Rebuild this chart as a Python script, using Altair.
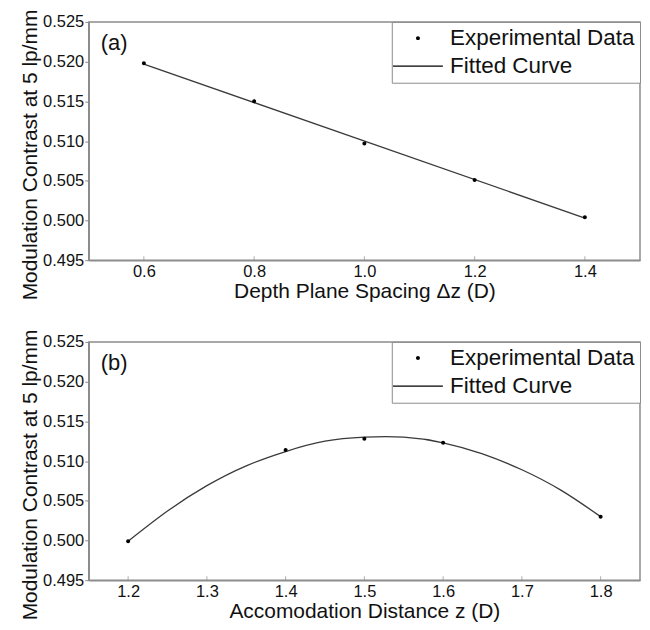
import altair as alt
import pandas as pd

# ---------------- data ----------------
# Panel (a): contrast vs depth plane spacing
a_x = [0.6, 0.8, 1.0, 1.2, 1.4]
a_y = [0.5198, 0.5150, 0.5097, 0.5051, 0.5004]
a_fit_x = [0.6, 1.4]
a_fit_y = [0.5197, 0.5003]
a_xticks = [0.6, 0.8, 1.0, 1.2, 1.4]

# Panel (b): contrast vs accommodation distance
b_x = [1.2, 1.4, 1.5, 1.6, 1.8]
b_y = [0.4999, 0.5114, 0.5128, 0.5123, 0.5030]
b_fit_x = [1.20, 1.25, 1.30, 1.35, 1.40, 1.45, 1.50, 1.55, 1.60, 1.65, 1.70, 1.75, 1.80]
b_fit_y = [0.4999, 0.5037, 0.5069, 0.5094, 0.5112, 0.5125, 0.5130, 0.5130,
           0.5123, 0.5109, 0.5089, 0.5063, 0.5030]
b_xticks = [1.2, 1.3, 1.4, 1.5, 1.6, 1.7, 1.8]

y_ticks = [0.495, 0.500, 0.505, 0.510, 0.515, 0.520, 0.525]
y_title = "Modulation Contrast at 5 lp/mm"
series = ["Experimental Data", "Fitted Curve"]

FONT = "Liberation Sans"
FRAME = "#8c8c8c"
LINE = "#3a3a3a"
# marker / legend symbols: a small filled dot and a thin filled bar (line sample)
DOT = "M-0.4,0A0.4,0.4 0 1,0 0.4,0A0.4,0.4 0 1,0 -0.4,0Z"
DASH = "M-5,-0.13H5V0.13H-5Z"


def panel(px, py, fx, fy, xdomain, xticks, xtitle, tag, interp):
    pts = pd.DataFrame({"x": px, "y": py, "s": [series[0]] * len(px)})
    fit = pd.DataFrame({"x": fx, "y": fy})
    tk = pd.DataFrame({"x": xticks})
    lab = pd.DataFrame({"t": [tag]})

    xs = alt.Scale(domain=xdomain, nice=False, zero=False)
    ys = alt.Scale(domain=[y_ticks[0], y_ticks[-1]], nice=False, zero=False)
    ss = alt.Scale(domain=series, range=[DOT, DASH])

    legend = alt.Legend(
        title=None, orient="top-right", offset=0, padding=5,
        strokeColor=FRAME, fillColor="white",
        symbolSize=100, symbolStrokeWidth=0, symbolOffset=10,
        symbolFillColor="#111111",
        labelFont=FONT, labelFontSize=22.5, labelColor="#111111",
        labelOffset=21, rowPadding=5, labelLimit=400,
    )

    xaxis = alt.Axis(title=xtitle, values=xticks, format=".1f", tickSize=0,
                     labelPadding=3, titlePadding=1, labelFlush=False,
                     labelOverlap=False, grid=False)
    yaxis = alt.Axis(title=y_title, values=y_ticks, tickCount=20, format=".3f",
                     tickSize=4, labelPadding=1, titlePadding=2, titleY=133,
                     labelFlush=False, labelOverlap=False, grid=False)

    line = alt.Chart(fit).mark_line(strokeWidth=1.3, interpolate=interp,
                                    color=LINE).encode(
        x=alt.X("x:Q", scale=xs, axis=xaxis),
        y=alt.Y("y:Q", scale=ys, axis=yaxis),
    )
    points = alt.Chart(pts).mark_point(filled=True, size=100, opacity=1,
                                       color="#000000", strokeWidth=0).encode(
        x="x:Q", y="y:Q",
        shape=alt.Shape("s:N", scale=ss, legend=legend),
    )
    inner_ticks = alt.Chart(tk).mark_tick(clip=True, orient="vertical", size=8,
                                          thickness=1, color=FRAME).encode(
        x="x:Q", y=alt.datum(y_ticks[0]),
    )
    text = alt.Chart(lab).mark_text(align="left", baseline="middle", fontSize=22,
                                    font=FONT, color="#111111").encode(
        text="t:N", x=alt.value(12), y=alt.value(21),
    )
    return alt.layer(inner_ticks, line, points, text).properties(width=553, height=239)


pa = panel(a_x, a_y, a_fit_x, a_fit_y, [0.5, 1.5], a_xticks,
           "Depth Plane Spacing \u0394z (D)", "(a)", "linear")
pb = panel(b_x, b_y, b_fit_x, b_fit_y, [1.15, 1.85], b_xticks,
           "Accomodation Distance z (D)", "(b)", "natural")

chart = alt.vconcat(pa, pb, spacing=82, bounds="flush").resolve_scale(
    shape="independent").resolve_legend(shape="independent").properties(
    padding={"left": 10, "top": -1, "right": 0, "bottom": 0}
).configure_view(stroke=FRAME, strokeWidth=1.5).configure_axis(
    domainColor=FRAME, domainWidth=1.5, tickColor=FRAME, tickWidth=1,
    labelFont=FONT, labelFontSize=16.5, labelColor="#111111",
    titleFont=FONT, titleFontSize=21, titleFontWeight="normal", titleColor="#111111",
)

chart.save("out.html", embed_options={"renderer": "svg", "actions": False})
